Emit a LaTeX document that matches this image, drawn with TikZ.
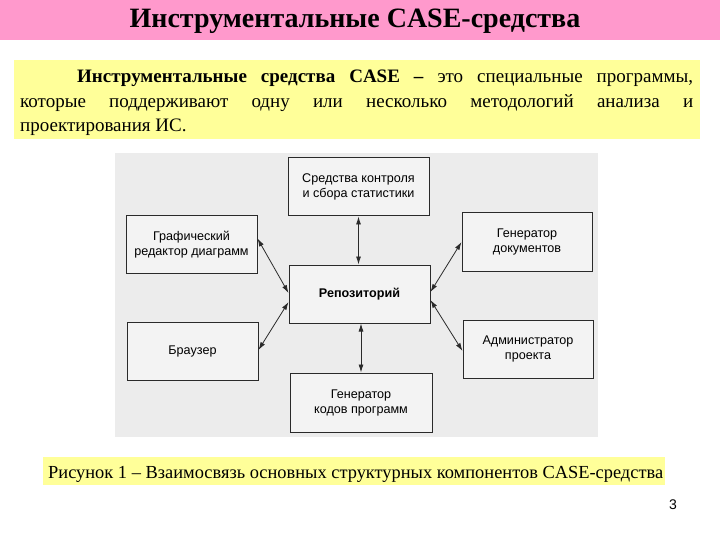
\documentclass[tikz,border=0pt]{standalone}
\usepackage{fontspec}
\setmainfont{Liberation Serif}
\setsansfont{Liberation Sans}
\usetikzlibrary{arrows.meta}
\definecolor{pinkbar}{HTML}{FF99CC}
\definecolor{yelbox}{HTML}{FFFF99}
\definecolor{diagbg}{HTML}{ECECEC}
\definecolor{boxfill}{HTML}{F3F3F3}
\definecolor{boxline}{HTML}{2A2A2A}
\tikzset{
  comp/.style={draw=boxline, line width=1pt, fill=boxfill, inner sep=0pt,
    font=\sffamily\fontsize{12.6}{15}\selectfont, align=center},
  link/.style={draw=boxline, line width=0.8pt, {Latex[length=8pt,width=5pt]}-{Latex[length=8pt,width=5pt]}}
}
\begin{document}
\begin{tikzpicture}[x=1pt,y=-1pt]
\useasboundingbox (0,0) rectangle (720,540);
\fill[white] (0,0) rectangle (720,540);
% header
\fill[pinkbar] (0,0) rectangle (720,40);
\node (title) at (355,21) {\fontsize{28}{32}\selectfont\bfseries Инструментальные CASE-средства};
% definition box
\fill[yelbox] (14,60) rectangle (700,139);
\node[anchor=base west, inner sep=0pt, text width=673pt, align=justify,
      font=\fontsize{19}{24.3}\selectfont] (def) at (20,83)
 {\setlength{\parindent}{57pt}\indent\textbf{Инструментальные средства CASE –} это специальные программы,\linebreak которые поддерживают одну или несколько методологий анализа и\linebreak проектирования ИС.\par};
% diagram background
\fill[diagbg] (115,153) rectangle (598,437);
% components
\node[comp, minimum width=141pt, minimum height=58pt] (stat) at (358.5,187) {Средства контроля\\и сбора статистики};
\node[comp, minimum width=131pt, minimum height=57pt] (graph) at (191.5,244.5) {Графический\\редактор диаграмм};
\node[comp, minimum width=130pt, minimum height=58pt] (docs) at (527,242) {Генератор\\документов};
\node[comp, minimum width=141pt, minimum height=58pt, font=\sffamily\bfseries\fontsize{12.6}{15}\selectfont] (repo) at (359.5,294) {Репозиторий};
\node[comp, minimum width=131pt, minimum height=58pt] (brow) at (192.5,351) {Браузер};
\node[comp, minimum width=130pt, minimum height=58pt] (admin) at (528,349) {Администратор\\проекта};
\node[comp, minimum width=142pt, minimum height=59pt] (code) at (361,402.5) {Генератор\\кодов программ};
% connectors
\draw[link] (stat.south) -- (stat.south |- repo.north);
\draw[link] (code.north |- repo.south) -- (code.north);
\draw[link] ([yshift=6pt]graph.east) -- ([yshift=1pt]repo.west);
\draw[link] ([yshift=1pt]brow.east) -- ([yshift=-8pt]repo.west);
\draw[link] (docs.west) -- ([yshift=2pt]repo.east);
\draw[link] ([yshift=-2pt]admin.west) -- ([yshift=-6pt]repo.east);
% caption
\fill[yelbox] (43,457) rectangle (665,485);
\node[anchor=base west, inner sep=0pt] (cap) at (48,478) {\fontsize{18.4}{20}\selectfont Рисунок 1 – Взаимосвязь основных структурных компонентов CASE-средства};
\node[font=\sffamily\fontsize{14}{16}\selectfont, inner sep=0pt] (num) at (673,505) {3};
\end{tikzpicture}
\end{document}
